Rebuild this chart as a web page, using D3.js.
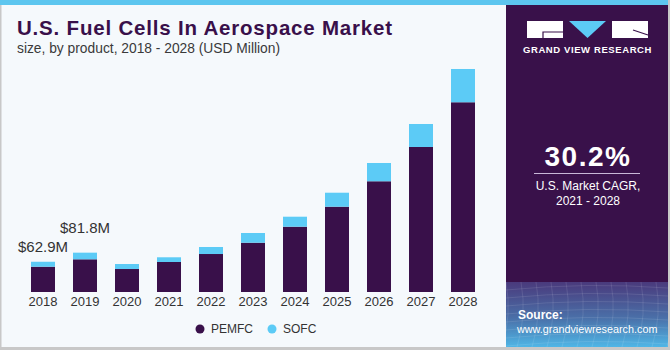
<!DOCTYPE html>
<html>
<head>
<meta charset="utf-8">
<script src="https://cdn.jsdelivr.net/npm/d3@7"></script>
<style>
  html, body { margin: 0; padding: 0; background: #fff; }
  #chart { width: 670px; height: 350px; }
</style>
</head>
<body>
<div id="chart"></div>
<script>
// Data (USD Million)
const years = ['2018', '2019', '2020', '2021', '2022', '2023', '2024', '2025', '2026', '2027', '2028'];
const pemfc = [52.6, 68.0, 47.8, 62.4, 79.0, 102.5, 135.8, 177.4, 230.3, 301.6, 394.6];
const sofc = [10.3, 13.8, 10.4, 9.8, 14.6, 20.2, 20.8, 29.1, 38.0, 47.8, 69.2];
const seriesNames = ['PEMFC', 'SOFC'];
const callouts = [{ year: '2018', text: '$62.9M', gap: 10 }, { year: '2019', text: '$81.8M', gap: 20 }];

const colors = { PEMFC: '#39104a', SOFC: '#5ccbf6' };
const font = '"Liberation Sans", Arial, sans-serif';

const W = 670, H = 350;
const svg = d3.select('#chart').append('svg')
    .attr('width', W)
    .attr('height', H);

// Background and frame
svg.append('rect').attr('width', W).attr('height', H).attr('fill', '#f5f9fc');
svg.append('rect').attr('x', 0).attr('y', 0).attr('width', 1.5).attr('height', H).attr('fill', '#c8c8c8');
svg.append('rect').attr('x', 668).attr('y', 0).attr('width', 2).attr('height', H).attr('fill', '#c8c8c8');
svg.append('rect').attr('x', 0).attr('y', 347).attr('width', W).attr('height', 3).attr('fill', '#c8c8c8');

// Right panel
const defs = svg.append('defs');
const grad = defs.append('linearGradient')
    .attr('id', 'srcGrad')
    .attr('x1', 0).attr('y1', 0).attr('x2', 0).attr('y2', 1);
grad.append('stop').attr('offset', '0%').attr('stop-color', '#4a3a7c');
grad.append('stop').attr('offset', '55%').attr('stop-color', '#4a6fa8');
grad.append('stop').attr('offset', '100%').attr('stop-color', '#4fb6e6');

svg.append('rect').attr('x', 506).attr('y', 0).attr('width', 162).attr('height', 347).attr('fill', '#39114a');
svg.append('rect').attr('x', 506).attr('y', 282).attr('width', 162).attr('height', 65).attr('fill', 'url(#srcGrad)');

// faint grid in the source area
const gridG = svg.append('g').attr('stroke', '#ffffff').attr('stroke-opacity', 0.13).attr('stroke-width', 0.8).attr('fill', 'none');
for (let i = 0; i < 12; i++) {
    const x = 506 + i * 15;
    gridG.append('path').attr('d', `M${x},282 Q${x + 6},315 ${x - 4},347`);
}
for (let j = 0; j < 8; j++) {
    const y = 286 + j * 8;
    gridG.append('path').attr('d', `M506,${y + 4} Q587,${y - 4} 668,${y + 2}`);
}

// Top stripe
svg.append('rect').attr('x', 0).attr('y', 0).attr('width', 668).attr('height', 5).attr('fill', '#5dc6ef');

// Logo
const logo = svg.append('g');
logo.append('rect').attr('x', 527).attr('y', 21).attr('width', 36).attr('height', 17).attr('fill', '#ffffff');
logo.append('path').attr('d', 'M543,38 L543,32 L563,32').attr('stroke', '#39114a').attr('stroke-width', 1.2).attr('fill', 'none');
logo.append('path').attr('d', 'M569,21 L606,21 L587.5,38 Z').attr('fill', '#5ccbf6');
logo.append('rect').attr('x', 612).attr('y', 21).attr('width', 36).attr('height', 17).attr('fill', '#ffffff');
logo.append('path').attr('d', 'M633,30 L648,35').attr('stroke', '#39114a').attr('stroke-width', 1.2);
logo.append('text')
    .attr('x', 587.5).attr('y', 53)
    .attr('text-anchor', 'middle')
    .attr('font-family', font).attr('font-weight', 'bold').attr('font-size', 9.5)
    .attr('letter-spacing', 0.6)
    .attr('fill', '#ffffff')
    .text('GRAND VIEW RESEARCH');

// CAGR block
svg.append('text')
    .attr('x', 588).attr('y', 166)
    .attr('text-anchor', 'middle')
    .attr('font-family', font).attr('font-weight', 'bold').attr('font-size', 28)
    .attr('letter-spacing', 1.5)
    .attr('fill', '#ffffff')
    .text('30.2%');
svg.append('line').attr('x1', 534).attr('x2', 640).attr('y1', 173.5).attr('y2', 173.5)
    .attr('stroke', '#c9b8d8').attr('stroke-width', 1.2);
svg.append('text')
    .attr('x', 588).attr('y', 190)
    .attr('text-anchor', 'middle')
    .attr('font-family', font).attr('font-size', 12)
    .attr('fill', '#ffffff')
    .text('U.S. Market CAGR,');
svg.append('text')
    .attr('x', 588).attr('y', 204.5)
    .attr('text-anchor', 'middle')
    .attr('font-family', font).attr('font-size', 12)
    .attr('fill', '#ffffff')
    .text('2021 - 2028');

// Source
svg.append('text')
    .attr('x', 518).attr('y', 319)
    .attr('font-family', font).attr('font-weight', 'bold').attr('font-size', 12)
    .attr('fill', '#ffffff')
    .text('Source:');
svg.append('text')
    .attr('x', 517).attr('y', 333)
    .attr('font-family', font).attr('font-size', 10.8)
    .attr('fill', '#ffffff')
    .text('www.grandviewresearch.com');

// Title
svg.append('text')
    .attr('x', 17).attr('y', 35)
    .attr('font-family', font).attr('font-weight', 'bold').attr('font-size', 20.5)
    .attr('letter-spacing', 0.8)
    .attr('fill', '#39104a')
    .text('U.S. Fuel Cells In Aerospace Market');
svg.append('text')
    .attr('x', 17).attr('y', 53)
    .attr('font-family', font).attr('font-size', 13.8)
    .attr('fill', '#3a3a3a')
    .text('size, by product, 2018 - 2028 (USD Million)');

// Scales
const x = d3.scaleBand()
    .domain(years)
    .range([13, 493])
    .paddingInner(0.4286)
    .paddingOuter(0.4286);

const y = d3.scaleLinear()
    .domain([0, 480])
    .range([292, 61.2]);

const rows = years.map((yr, i) => ({ year: yr, PEMFC: pemfc[i], SOFC: sofc[i] }));
const stacked = d3.stack().keys(seriesNames)(rows);

const g = svg.append('g');
g.selectAll('.series')
    .data(stacked)
    .enter()
    .append('g')
    .attr('class', 'series')
    .attr('fill', d => colors[d.key])
    .selectAll('rect')
    .data(d => d)
    .enter()
    .append('rect')
    .attr('x', d => x(d.data.year))
    .attr('y', d => y(d[1]))
    .attr('width', x.bandwidth())
    .attr('height', d => y(d[0]) - y(d[1]));

// X axis
const xAxis = g.append('g')
    .attr('transform', 'translate(0,292)')
    .call(d3.axisBottom(x).tickSize(0).tickPadding(5));
xAxis.select('.domain').remove();
xAxis.selectAll('text')
    .attr('font-family', font)
    .attr('font-size', 13)
    .attr('fill', '#333333');

// Callouts for the first two totals
const totals = years.map((yr, i) => pemfc[i] + sofc[i]);
callouts.forEach(c => {
    const i = years.indexOf(c.year);
    g.append('text')
        .attr('x', x(c.year) + x.bandwidth() / 2)
        .attr('y', y(totals[i]) - c.gap)
        .attr('text-anchor', 'middle')
        .attr('font-family', font)
        .attr('font-size', 15)
        .attr('fill', '#333333')
        .text(c.text);
});

// Legend
const legend = svg.append('g').attr('transform', 'translate(200,329)');
const items = legend.selectAll('g')
    .data(seriesNames)
    .enter()
    .append('g')
    .attr('transform', (d, i) => `translate(${i * 72},0)`);
items.append('circle').attr('r', 4.5).attr('fill', d => colors[d]);
items.append('text')
    .attr('x', 11).attr('y', 4)
    .attr('font-family', font).attr('font-size', 12)
    .attr('fill', '#333333')
    .text(d => d);
</script>
</body>
</html>
